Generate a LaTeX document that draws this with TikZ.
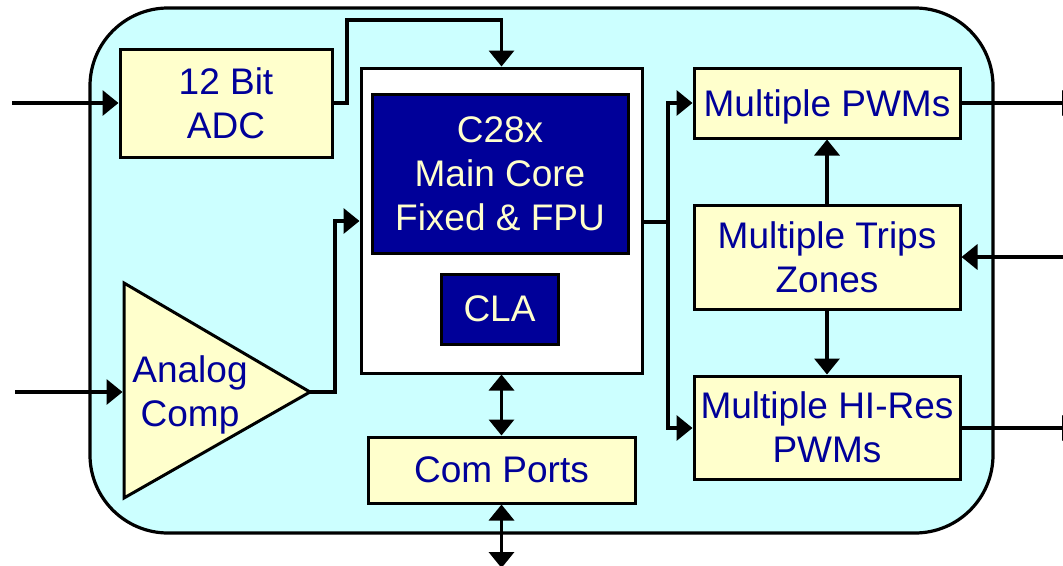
\documentclass[tikz,border=0pt]{standalone}
\usepackage{fontspec}
\setmainfont{Liberation Sans}
\usetikzlibrary{arrows.meta}
\definecolor{bgcyan}{HTML}{CCFFFF}
\definecolor{boxyel}{HTML}{FFFFCC}
\definecolor{navy}{HTML}{000099}
\begin{document}
\begin{tikzpicture}[x=1pt,y=-1pt,
 every node/.style={font=\fontsize{37}{44}\selectfont, align=center, inner sep=0pt, text depth=0pt},
 ybox/.style={draw=black, line width=3pt, fill=boxyel, text=navy},
 cbox/.style={draw=black, line width=3pt, fill=navy, text=boxyel},
 wbox/.style={draw=black, line width=3pt, fill=white},
 conn/.style={line width=3.5pt, -{Triangle[length=16pt,width=25pt]}},
 dconn/.style={line width=3.5pt, {Triangle[length=16pt,width=25pt]}-{Triangle[length=16pt,width=25pt]}},
 wire/.style={line width=3.5pt}]
\useasboundingbox (0,0) rectangle (1063,565);
% outer board
\draw[line width=3.2pt, fill=bgcyan, rounded corners=78pt] (90,8) rectangle (993,533);

% blocks
\node[ybox, minimum width=212pt, minimum height=108pt] (adc) at (226,103) {12 Bit\\ADC};
\node[wbox, minimum width=281pt, minimum height=305pt] (main) at (501.5,220.5) {};
\node[cbox, minimum width=256pt, minimum height=159pt] (core) at (500,173.5) {C28x\\Main Core\\Fixed \& FPU};
\node[cbox, minimum width=117pt, minimum height=70pt] (cla) at (499.5,309) {CLA};
\node[ybox, minimum width=267pt, minimum height=66pt] (com) at (501.5,470) {Com Ports};
\node[ybox, minimum width=266pt, minimum height=70pt] (pwm) at (827,103) {Multiple PWMs};
\node[ybox, minimum width=266pt, minimum height=104pt] (trips) at (827,257) {Multiple Trips\hspace{0.278em}\\Zones};
\node[ybox, minimum width=266pt, minimum height=103pt] (hires) at (827,427.5) {Multiple HI-Res\\PWMs};

% analog comparator (triangle)
\draw[ybox, line join=miter] (124,283) -- (310,392) -- (124,498) -- cycle;
\node[text=navy] (comp) at (190,391) {Analog\\Comp};
\coordinate (compin) at (122.5,392);
\coordinate (compout) at (310,392);

% free ends
\coordinate (in1) at (12,103);
\coordinate (in2) at (15,392);
\coordinate (in3) at (1068,257);
\coordinate (out1) at (1078,103);
\coordinate (out2) at (1078,428);
\coordinate (comout) at (501.5,568);
\coordinate (split) at (668,222);

% connectors
\draw[conn] (in1) -- (adc.west);
\draw[conn] (in2) -- (compin);
\draw[conn, line join=miter] (adc.east) -| (347,20) -| (main.north);
\draw[conn, line join=miter] (compout) -| (335,221) -- (main.west |- 0,221);
\draw[wire] (main.east |- split) -- (split);
\draw[conn, line join=miter] (split) |- (pwm.west);
\draw[conn, line join=miter] (split) |- (hires.west |- 0,428);
\draw[conn] (trips.north) -- (pwm.south);
\draw[conn] (trips.south) -- (hires.north);
\draw[conn] (in3) -- (trips.east);
\draw[conn] (pwm.east) -- (out1);
\draw[conn] (hires.east |- out2) -- (out2);
\draw[dconn] (main.south) -- (com.north);
\draw[dconn] (com.south) -- (comout);
\end{tikzpicture}
\end{document}
